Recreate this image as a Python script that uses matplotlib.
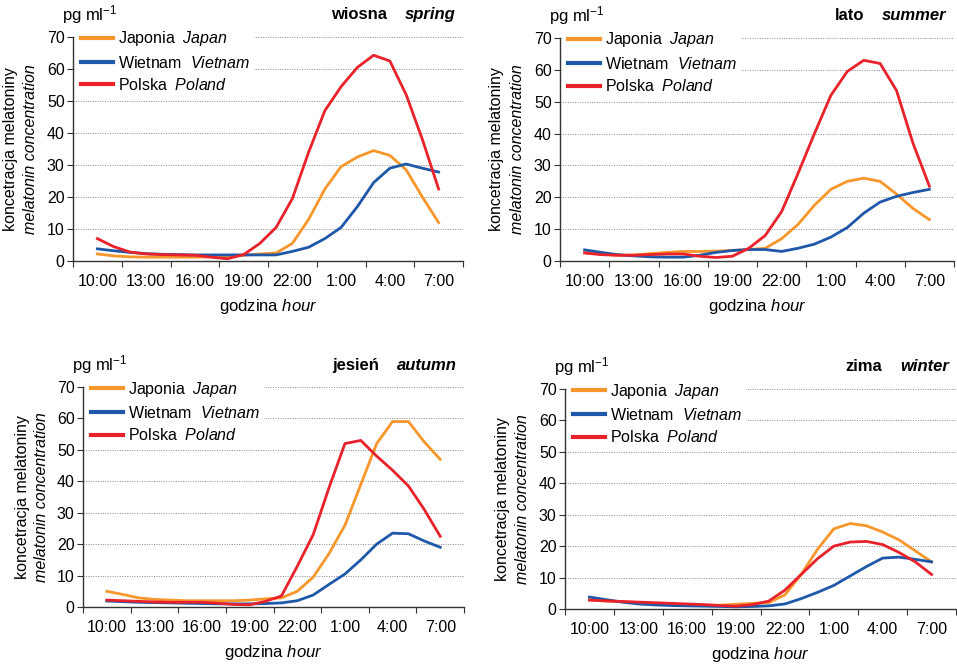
import numpy as np
import matplotlib
matplotlib.use("Agg")
import matplotlib.pyplot as plt
from matplotlib.ticker import FixedLocator, NullFormatter, FixedFormatter

plt.rcParams["font.family"] = ["Liberation Sans", "DejaVu Sans"]
plt.rcParams["mathtext.fontset"] = "custom"
plt.rcParams["mathtext.rm"] = "Liberation Sans"
plt.rcParams["mathtext.it"] = "Liberation Sans:italic"

# hours of the day, 10:00 .. 7:00 next day (24 = midnight)
hours = list(range(10, 32))
tick_labels = ["10:00", "13:00", "16:00", "19:00", "22:00", "1:00", "4:00", "7:00"]

# ---- spring ----
spring_japan = [2.2, 1.6, 1.3, 1.2, 1.2, 1.2, 1.2, 1.3, 1.5, 1.8, 2.2, 2.5,
                5.5, 13, 22.5, 29.5, 32.5, 34.5, 33, 28.5, 20, 12]
spring_vietnam = [3.8, 3.2, 2.7, 2.3, 2.1, 2.0, 1.9, 1.9, 1.9, 1.9, 1.9, 1.9,
                  3.0, 4.3, 7, 10.5, 17, 24.5, 29, 30.3, 29, 27.8]
spring_poland = [7.0, 4.5, 2.8, 2.2, 2.0, 1.9, 1.8, 1.2, 0.7, 2.0, 5.5, 10.5,
                 19.5, 34, 47, 54.5, 60.5, 64.3, 62.5, 52, 38, 22.5]

# ---- summer ----
summer_japan = [2.8, 2.2, 1.8, 1.9, 2.3, 2.7, 3.0, 3.0, 3.1, 3.3, 3.6, 4.0,
                7.0, 11.5, 17.5, 22.5, 25, 26, 25, 21, 16.5, 13]
summer_vietnam = [3.5, 2.7, 2.0, 1.6, 1.3, 1.2, 1.2, 1.8, 2.7, 3.3, 3.6, 3.6,
                  3.0, 4.0, 5.3, 7.5, 10.5, 15, 18.5, 20.3, 21.5, 22.5]
summer_poland = [2.5, 2.0, 1.8, 1.8, 2.0, 2.2, 2.2, 1.5, 1.1, 1.5, 4, 8,
                 15.5, 27.5, 40, 52, 59.5, 63, 62, 53.5, 37, 23.5]

# ---- autumn ----
autumn_japan = [5.0, 4.0, 2.9, 2.4, 2.2, 2.0, 2.0, 2.0, 2.0, 2.2, 2.6, 2.9,
                5, 9.5, 17, 26, 39, 52, 59, 59, 52.5, 47]
autumn_vietnam = [1.9, 1.7, 1.5, 1.4, 1.3, 1.2, 1.1, 1.0, 1.0, 1.0, 1.1, 1.3,
                  2.0, 3.8, 7.2, 10.5, 15, 20, 23.5, 23.3, 21, 19]
autumn_poland = [2.2, 2.0, 1.8, 1.6, 1.5, 1.5, 1.5, 1.2, 0.8, 0.7, 1.8, 3.5,
                 13, 23, 38, 52, 53, 48, 43.5, 38.5, 31, 22.5]

# ---- winter ----
winter_japan = [3.0, 2.5, 2.3, 2.0, 1.8, 1.6, 1.4, 1.2, 1.2, 1.5, 1.8, 2.0,
                4.5, 11, 19, 25.5, 27.2, 26.5, 24.5, 22, 18.5, 15]
winter_vietnam = [3.8, 3.0, 2.2, 1.6, 1.3, 1.1, 1.0, 0.9, 0.8, 0.7, 0.8, 1.0,
                  1.6, 3.3, 5.3, 7.5, 10.5, 13.5, 16.2, 16.5, 15.8, 15]
winter_poland = [2.8, 2.6, 2.4, 2.2, 2.0, 1.8, 1.6, 1.4, 1.1, 0.9, 1.4, 2.5,
                 6, 11, 16, 20, 21.3, 21.5, 20.5, 18, 15, 11]

seasons = [
    ("wiosna", "spring", spring_japan, spring_vietnam, spring_poland),
    ("lato", "summer", summer_japan, summer_vietnam, summer_poland),
    ("jesie\u0144", "autumn", autumn_japan, autumn_vietnam, autumn_poland),
    ("zima", "winter", winter_japan, winter_vietnam, winter_poland),
]

ORANGE = "#f7962b"
BLUE = "#1f58a8"
RED = "#e8212b"

W, H = 957, 666
# axes boxes in pixels: left, top, right, bottom
boxes = [
    (73, 37, 463, 261),
    (560, 38, 954, 261),
    (83, 387, 464, 607),
    (565, 389, 956, 609),
]

fig = plt.figure(figsize=(W / 100, H / 100), dpi=100)

for (pl, en, jp, vn, pol), (l, t, r, b) in zip(seasons, boxes):
    ax = fig.add_axes([l / W, 1 - b / H, (r - l) / W, (b - t) / H])
    ax.plot(hours, jp, color=ORANGE, lw=2, label="Japonia  $\\mathit{Japan}$")
    ax.plot(hours, vn, color=BLUE, lw=2, label="Wietnam  $\\mathit{Vietnam}$")
    ax.plot(hours, pol, color=RED, lw=2, label="Polska  $\\mathit{Poland}$")

    ax.set_xlim(8.5, 32.5)
    ax.set_ylim(0, 70)
    ax.set_yticks(range(0, 71, 10))
    ax.xaxis.set_major_locator(FixedLocator(np.arange(8.5, 33, 3)))
    ax.xaxis.set_major_formatter(NullFormatter())
    ax.xaxis.set_minor_locator(FixedLocator(np.arange(10, 32, 3)))
    ax.xaxis.set_minor_formatter(FixedFormatter(tick_labels))
    ax.tick_params(axis="x", which="minor", length=0, pad=9, labelsize=11.5)
    ax.tick_params(axis="x", which="major", length=4, direction="out", color="#333")
    ax.tick_params(axis="y", length=4, direction="out", color="#333", labelsize=11.5, pad=2)

    for s in ("top", "right"):
        ax.spines[s].set_visible(False)
    for s in ("left", "bottom"):
        ax.spines[s].set_color("#333")
        ax.spines[s].set_linewidth(1.0)

    for v in range(10, 71, 10):
        ax.axhline(v, color="#888", lw=0.7, ls=(0, (1, 1.5)), zorder=0)

    leg = ax.legend(loc="upper left", bbox_to_anchor=(0.0, 1.07), frameon=True,
                    fontsize=11.5, handlelength=2.0, handletextpad=0.3,
                    labelspacing=0.4, borderaxespad=0.2, borderpad=0.3)
    leg.get_frame().set_facecolor("white")
    leg.get_frame().set_edgecolor("none")
    leg.get_frame().set_alpha(1)
    for line in leg.get_lines():
        line.set_linewidth(3)

    ax.set_xlabel("godzina $\\mathit{hour}$", fontsize=12, labelpad=6)
    ax.text(-0.16, 0.5, "koncetracja melatoniny", rotation=90, transform=ax.transAxes,
            ha="center", va="center", fontsize=11.5)
    ax.text(-0.108, 0.5, "melatonin concentration", rotation=90, style="italic",
            transform=ax.transAxes, ha="center", va="center", fontsize=11.5)
    ax.text(-0.028, 1.1, "pg ml$^{-1}$", transform=ax.transAxes,
            ha="left", va="center", fontsize=12)
    t_en = ax.text(0.982, 1.1, en, transform=ax.transAxes, ha="right", va="center",
                   fontsize=12, fontweight="bold", style="italic")
    ax.annotate(pl, xy=(0, 0.5), xycoords=t_en, xytext=(-13, 0),
                textcoords="offset points", ha="right", va="center",
                fontsize=12, fontweight="bold")

fig.savefig("out.png", dpi=100)
